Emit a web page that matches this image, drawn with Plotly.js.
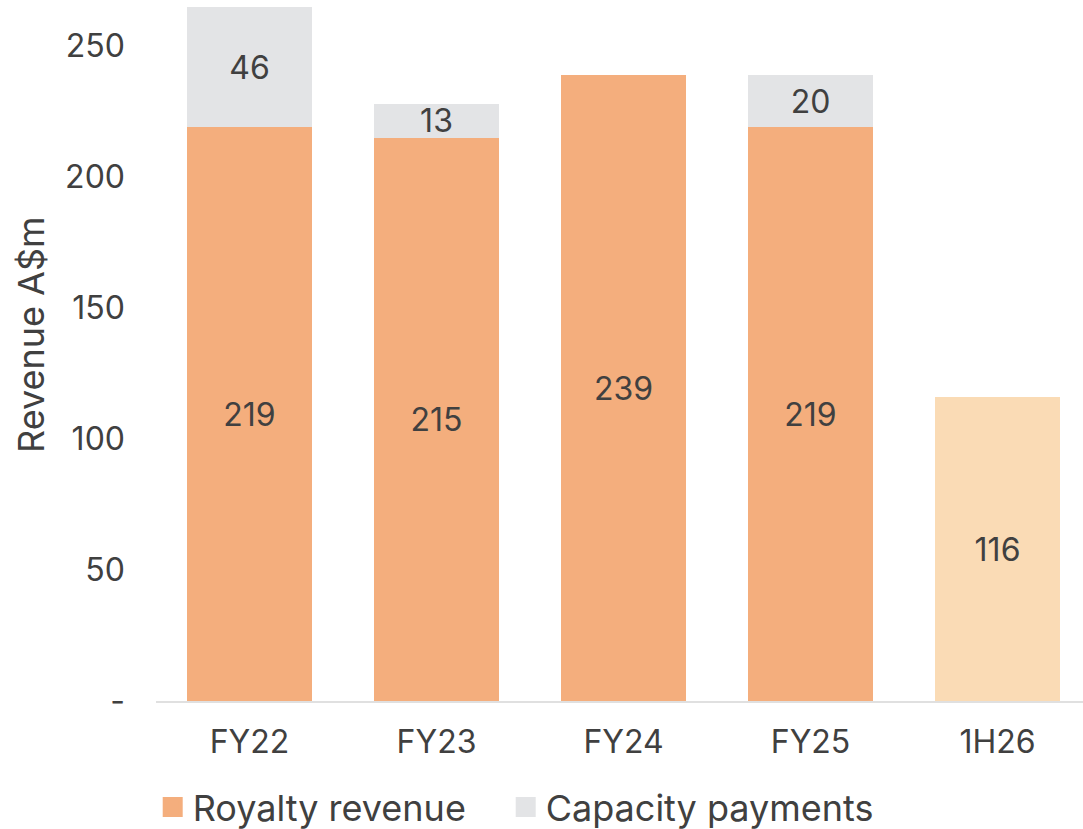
<!DOCTYPE html>
<html>
<head>
<meta charset="utf-8">
<script src="https://cdn.plot.ly/plotly-3.0.1.min.js"></script>
<style>html,body{margin:0;padding:0;background:#fff;}#chart{width:1083px;height:829px;}</style>
</head>
<body>
<div id="chart"></div>
<script>
const categories = ['FY22', 'FY23', 'FY24', 'FY25', '1H26'];
const royaltyRevenue = [219, 215, 239, 219, 116];
const capacityPayments = [46, 13, null, 20, null];
const yTickValues = [0, 50, 100, 150, 200, 250];
const yTickLabels = ['-', '50', '100', '150', '200', '250'];
const yAxisTitle = 'Revenue A$m';

const FONT = 'Inter, "Open Sans", sans-serif';
const TXT = '#404040';
const ORANGE = '#F4AE7D';
const LIGHT = '#FADBB5';
const GREY = '#E3E4E6';

const royaltyColors = categories.map((c, i) => i === categories.length - 1 ? LIGHT : ORANGE);

const traces = [
  {
    type: 'bar', x: categories, y: royaltyRevenue, name: 'Royalty revenue',
    marker: {color: royaltyColors}, showlegend: false,
    text: royaltyRevenue.map(String), textposition: 'inside', insidetextanchor: 'middle',
    textangle: 0, constraintext: 'none', textfont: {family: FONT, size: 32, color: TXT},
    hoverinfo: 'skip'
  },
  {
    type: 'bar', x: categories, y: capacityPayments, name: 'Capacity payments',
    marker: {color: GREY}, showlegend: false,
    text: capacityPayments.map(v => v == null ? '' : String(v)), textposition: 'inside', insidetextanchor: 'middle',
    textangle: 0, constraintext: 'none', textfont: {family: FONT, size: 32, color: TXT},
    hoverinfo: 'skip'
  },
  {
    type: 'scatter', mode: 'markers', x: [categories[0]], y: [null], name: 'Royalty revenue',
    marker: {symbol: 'square', size: 16, color: ORANGE, line: {color: ORANGE, width: 4}},
    showlegend: true, hoverinfo: 'skip'
  },
  {
    type: 'scatter', mode: 'markers', x: [categories[0]], y: [null], name: 'Capacity payments',
    marker: {symbol: 'square', size: 16, color: GREY, line: {color: GREY, width: 4}},
    showlegend: true, legendwidth: 360, hoverinfo: 'skip'
  }
];

const layout = {
  width: 1083, height: 829,
  margin: {l: 156, r: 0, t: 7, b: 128, pad: 0},
  paper_bgcolor: '#fff', plot_bgcolor: '#fff',
  barmode: 'stack', bargap: 0.332,
  font: {family: FONT, color: TXT, size: 32},
  xaxis: {
    type: 'category', range: [-0.5, 4.457], showgrid: false, zeroline: false,
    showline: true, linecolor: '#E0E0E0', linewidth: 2, ticks: '',
    tickfont: {family: FONT, size: 32, color: TXT}, ticklabelstandoff: 12,
    fixedrange: true
  },
  yaxis: {
    range: [0, 265], showgrid: false, zeroline: false, showline: false, ticks: '',
    tickvals: yTickValues, ticktext: yTickLabels,
    tickfont: {family: FONT, size: 32, color: TXT}, ticklabelstandoff: 30,
    fixedrange: true
  },
  annotations: [{
    text: yAxisTitle, textangle: -90, showarrow: false,
    xref: 'paper', yref: 'paper', x: (31 - 156) / 927, y: (701 - 335) / 694,
    xanchor: 'center', yanchor: 'middle',
    font: {family: FONT, size: 36, color: TXT}
  }],
  showlegend: true,
  legend: {
    orientation: 'h', traceorder: 'normal', xref: 'container', yref: 'container',
    x: 0.141, xanchor: 'left', y: 1 - 807 / 829, yanchor: 'middle',
    entrywidth: 308, entrywidthmode: 'pixels',
    font: {family: FONT, size: 36, color: TXT}, bgcolor: 'rgba(0,0,0,0)'
  }
};

Plotly.newPlot('chart', traces, layout, {displayModeBar: false, staticPlot: true});
</script>
</body>
</html>
